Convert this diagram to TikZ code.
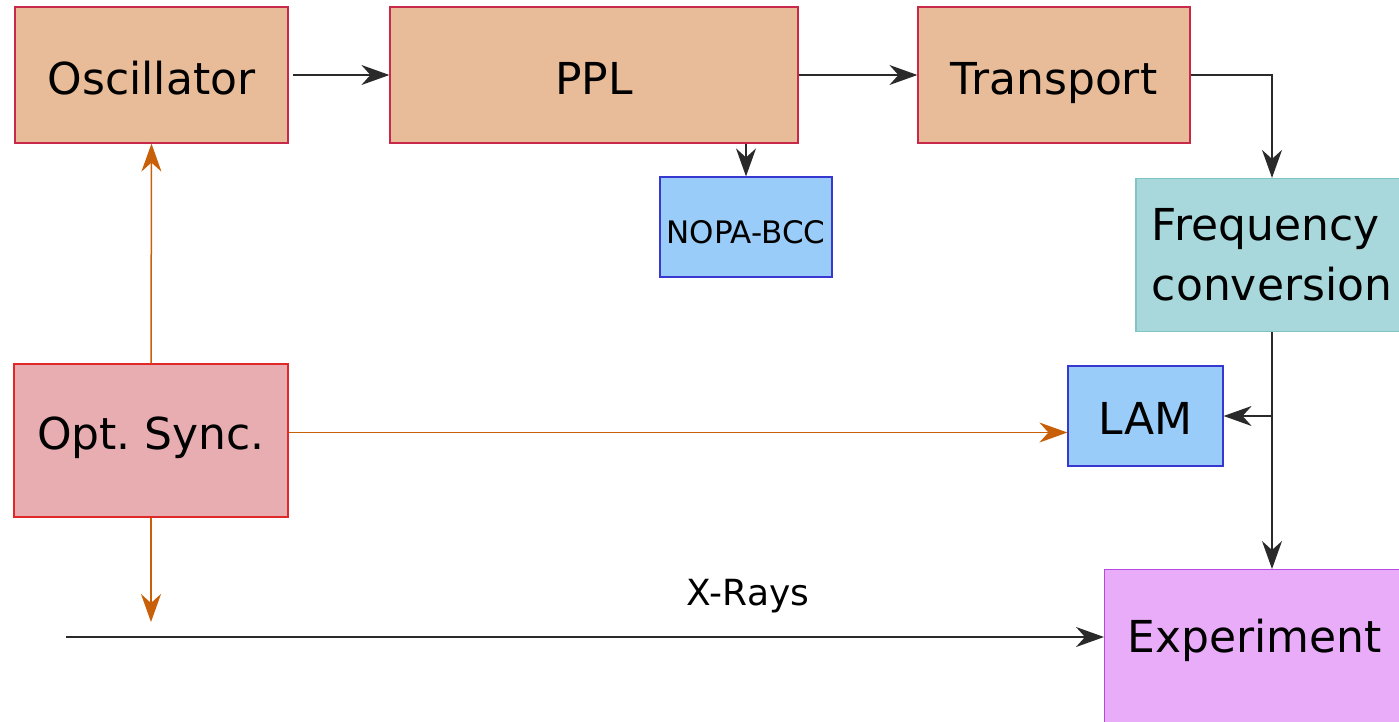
\documentclass[tikz,border=0pt]{standalone}
\usepackage{fontspec}
\setmainfont{DejaVu Sans}
\usetikzlibrary{arrows.meta}
\definecolor{tanfill}{HTML}{E8BC98}
\definecolor{tanline}{HTML}{C8284A}
\definecolor{syncfill}{HTML}{E8ADB0}
\definecolor{syncline}{HTML}{E02828}
\definecolor{bluefill}{HTML}{99CCF8}
\definecolor{blueline}{HTML}{3838D0}
\definecolor{freqfill}{HTML}{A8D8DC}
\definecolor{freqline}{HTML}{80C4C4}
\definecolor{expfill}{HTML}{E8ACF8}
\definecolor{expline}{HTML}{B848E0}
\definecolor{orangeline}{HTML}{C8600A}
\definecolor{darkline}{HTML}{2A2A2A}
\tikzset{
  blk/.style={draw, line width=1.2pt, inner sep=0pt, font=\fontsize{44}{60}\selectfont\frenchspacing, align=center},
  tanbox/.style={blk, fill=tanfill, draw=tanline, minimum width=273pt, minimum height=136pt, text height=40pt, text depth=2pt},
  tip/.style={-{Stealth[length=28pt, width=20pt, inset=9pt]}},
  conn/.style={tip, line width=1.5pt, draw=darkline},
  oconn/.style={tip, line width=1.5pt, draw=orangeline},
}
\begin{document}
\begin{tikzpicture}[x=1pt, y=-1pt]
\useasboundingbox (0,0) rectangle (1399,721);
\node[tanbox] (osc) at (151.5,75) {Oscillator};
\node[tanbox, minimum width=408pt] (ppl) at (594,75) {PPL};
\node[tanbox, minimum width=272pt] (trans) at (1054,75) {Transport};
\node[blk, fill=bluefill, draw=blueline, minimum width=172pt, minimum height=100pt, font=\fontsize{31}{36}\selectfont, text height=32pt, text depth=0pt] (nopa) at (746,227) {NOPA-BCC};
\node[blk, fill=freqfill, draw=freqline, minimum width=272pt, minimum height=153pt, align=left] (freq) at (1272,255) {Frequency\\conversion};
\node[blk, fill=bluefill, draw=blueline, minimum width=155pt, minimum height=100pt, text height=38pt, text depth=2pt] (lam) at (1145.5,416) {LAM};
\node[blk, fill=syncfill, draw=syncline, minimum width=274pt, minimum height=153pt, text height=34pt, text depth=17pt] (sync) at (151,440.5) {Opt. Sync.};
\node[blk, fill=expfill, draw=expline, minimum width=300pt, text height=83pt, text depth=89pt, anchor=north west] (exp) at (1104,569) {Experiment};
\coordinate (syncend) at (151,622);
\coordinate (xs) at (66,637);
\node[font=\fontsize{36}{40}\selectfont] (xlabel) at (748,596) {X-Rays};
% connectors
\draw[conn] (osc.east) ++(4,0) -- (ppl.west);
\draw[conn] (ppl.east) -- (trans.west);
\draw[conn] (ppl.south -| nopa.north) -- (nopa.north);
\draw[conn] (trans.east) -| (freq.north);
\draw[conn] (freq.south) -- (freq.south |- exp.north);
\draw[conn] (freq.south |- lam.east) -- (lam.east);
\draw[oconn] (sync.north) -- (osc.south);
\draw[oconn] ([yshift=8pt]sync.east) -- ([yshift=8pt]sync.east -| lam.west);
\draw[oconn] (sync.south) -- (syncend);
\draw[conn] (xs) -- (xs -| exp.west);
\end{tikzpicture}
\end{document}
